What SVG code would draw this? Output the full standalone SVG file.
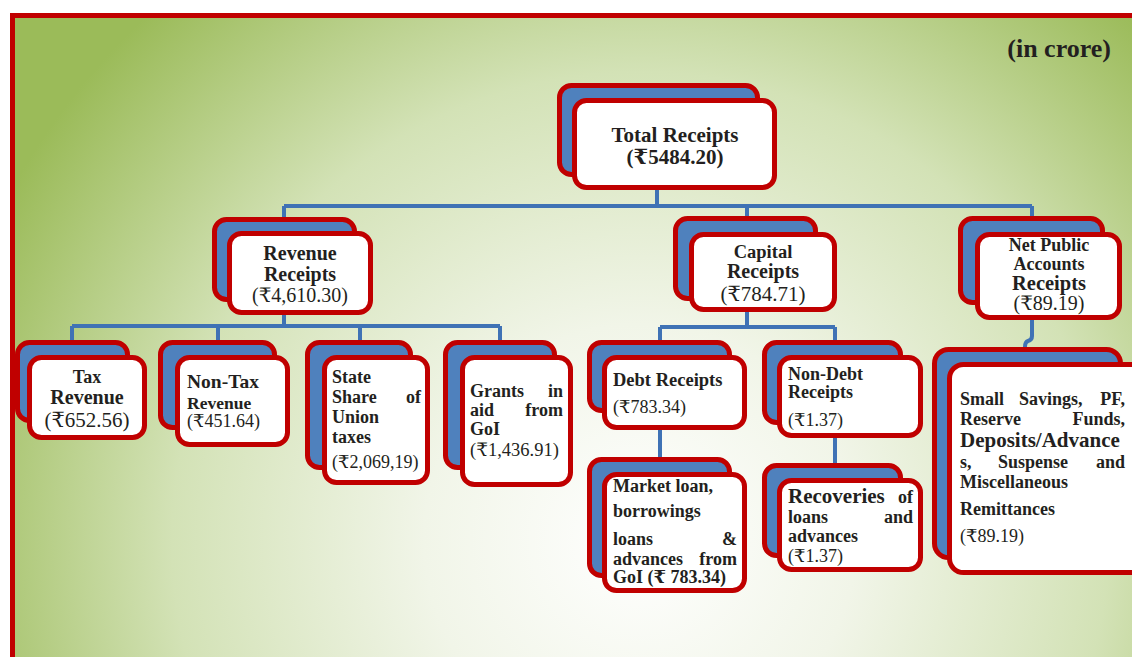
<svg xmlns="http://www.w3.org/2000/svg" width="1132" height="657" viewBox="0 0 1132 657">
<defs>
<radialGradient id="bg" gradientUnits="userSpaceOnUse" cx="640" cy="540" r="720">
<stop offset="0" stop-color="#ffffff"/>
<stop offset="0.3" stop-color="#f1f5e8"/>
<stop offset="0.65" stop-color="#d3e2b6"/>
<stop offset="1" stop-color="#9bbb59"/>
</radialGradient>
<style>
.back{fill:#4f81bd;stroke:#c00000;stroke-width:5}
.front{fill:#ffffff;stroke:#c00000;stroke-width:5}
.con{fill:none;stroke:#3f72b5;stroke-width:4}
text{font-family:"Liberation Serif","DejaVu Serif","Noto Sans",serif;fill:#231f20}
.b{font-weight:bold}
.c{text-anchor:middle}
.e{text-anchor:end}
</style>
</defs>
<rect x="0" y="0" width="1132" height="657" fill="#ffffff"/>
<rect x="12.5" y="15.5" width="1130" height="700" fill="url(#bg)" stroke="#c00000" stroke-width="5"/>
<text x="1111" y="57" class="b e" font-size="26">(in crore)</text>

<g id="connectors">
<path class="con" d="M657,190 V206 M284,206 H1032 M284,206 V232 M747,206 V232 M1032,206 V232"/>
<path class="con" d="M284,315 V326 M72,326 H500 M72,326 V355 M218,326 V355 M360,326 V355 M500,326 V355"/>
<path class="con" d="M747,312 V327 M660,327 H835 M660,327 V355 M835,327 V355 M660,430 V472 M835,438 V478"/>
<path class="con" d="M1032,320 V336 Q1032,340 1028,341 Q1025,342 1025,347 V350"/>
</g>

<g id="total">
<rect class="back" x="559.5" y="85.5" width="198" height="89" rx="12"/>
<rect class="front" x="574.5" y="100.5" width="200" height="87" rx="12"/>
<text x="675" y="142" class="b c" font-size="21">Total Receipts</text>
<text x="675" y="164" class="b c" font-size="21">(₹5484.20)</text>
</g>

<g id="revenue">
<rect class="back" x="214.5" y="219.5" width="140" height="80" rx="12"/>
<rect class="front" x="229.5" y="233.5" width="141" height="79" rx="12"/>
<text x="300" y="260" class="b c" font-size="20">Revenue</text>
<text x="300" y="281" class="b c" font-size="20">Receipts</text>
<text x="300" y="302" class="c" font-size="20">(₹4,610.30)</text>
</g>

<g id="capital">
<rect class="back" x="675.5" y="218.5" width="140" height="80" rx="12"/>
<rect class="front" x="691.5" y="234.5" width="143" height="75" rx="12"/>
<text x="763" y="258" class="b c" font-size="18.5">Capital</text>
<text x="763" y="278" class="b c" font-size="20">Receipts</text>
<text x="763" y="301" class="c" font-size="21">(₹784.71)</text>
</g>

<g id="netpublic">
<rect class="back" x="960.5" y="218.5" width="142" height="84" rx="12"/>
<rect class="front" x="977.5" y="234.5" width="142" height="83" rx="12"/>
<text x="1049" y="251" class="b c" font-size="18">Net Public</text>
<text x="1049" y="270" class="b c" font-size="18">Accounts</text>
<text x="1049" y="290" class="b c" font-size="20.5">Receipts</text>
<text x="1049" y="310" class="c" font-size="20">(₹89.19)</text>
</g>

<g id="tax">
<rect class="back" x="17.5" y="342.5" width="110" height="78" rx="12"/>
<rect class="front" x="29.5" y="357.5" width="115" height="80" rx="12"/>
<text x="87" y="383" class="b c" font-size="18">Tax</text>
<text x="87" y="404" class="b c" font-size="20">Revenue</text>
<text x="87" y="427" class="c" font-size="21">(₹652.56)</text>
</g>

<g id="nontax">
<rect class="back" x="160.5" y="342.5" width="114" height="85" rx="12"/>
<rect class="front" x="177.5" y="357.5" width="110" height="87" rx="12"/>
<text x="187" y="388" class="b" font-size="19.5">Non-Tax</text>
<text x="187" y="409" class="b" font-size="17.5">Revenue</text>
<text x="187" y="427" font-size="18">(₹451.64)</text>
</g>

<g id="stateshare">
<rect class="back" x="307.5" y="342.5" width="103" height="125" rx="12"/>
<rect class="front" x="324.5" y="357.5" width="103" height="125" rx="12"/>
<text x="332" y="383" class="b" font-size="18">State</text>
<text x="332" y="403" class="b" font-size="18">Share</text>
<text x="421" y="403" class="b e" font-size="18">of</text>
<text x="332" y="423" class="b" font-size="18">Union</text>
<text x="332" y="443" class="b" font-size="18">taxes</text>
<text x="332" y="468" font-size="18">(₹2,069,19)</text>
</g>

<g id="grants">
<rect class="back" x="445.5" y="342.5" width="109" height="125" rx="12"/>
<rect class="front" x="462.5" y="357.5" width="108" height="127" rx="12"/>
<text x="470" y="397" class="b" font-size="18">Grants</text>
<text x="563" y="397" class="b e" font-size="18">in</text>
<text x="470" y="416" class="b" font-size="18">aid</text>
<text x="563" y="416" class="b e" font-size="18">from</text>
<text x="470" y="435" class="b" font-size="18">GoI</text>
<text x="470" y="456" font-size="18.5">(₹1,436.91)</text>
</g>

<g id="debt">
<rect class="back" x="589.5" y="342.5" width="140" height="68" rx="12"/>
<rect class="front" x="604.5" y="357.5" width="140" height="70" rx="12"/>
<text x="613" y="386" class="b" font-size="18.5">Debt Receipts</text>
<text x="613" y="413" font-size="18">(₹783.34)</text>
</g>

<g id="marketloan">
<rect class="back" x="589.5" y="459.5" width="140" height="116" rx="12"/>
<rect class="front" x="604.5" y="474.5" width="140" height="116" rx="12"/>
<text x="613" y="492" class="b" font-size="18">Market loan,</text>
<text x="613" y="517" class="b" font-size="18">borrowings</text>
<text x="613" y="545" class="b" font-size="18">loans</text>
<text x="737" y="545" class="b e" font-size="18">&amp;</text>
<text x="613" y="565" class="b" font-size="18">advances</text>
<text x="737" y="565" class="b e" font-size="18">from</text>
<text x="613" y="583" class="b" font-size="18">GoI (₹ 783.34)</text>
</g>

<g id="nondebt">
<rect class="back" x="764.5" y="342.5" width="136" height="80" rx="12"/>
<rect class="front" x="779.5" y="357.5" width="141" height="78" rx="12"/>
<text x="788" y="380" class="b" font-size="18">Non-Debt</text>
<text x="788" y="398" class="b" font-size="18">Receipts</text>
<text x="788" y="426" font-size="18">(₹1.37)</text>
</g>

<g id="recoveries">
<rect class="back" x="764.5" y="465.5" width="136" height="90" rx="12"/>
<rect class="front" x="779.5" y="480.5" width="141" height="89" rx="12"/>
<text x="788" y="503" class="b" font-size="21">Recoveries</text>
<text x="913" y="503" class="b e" font-size="18">of</text>
<text x="788" y="523" class="b" font-size="18">loans</text>
<text x="913" y="523" class="b e" font-size="18">and</text>
<text x="788" y="542" class="b" font-size="18">advances</text>
<text x="788" y="562" font-size="18">(₹1.37)</text>
</g>

<g id="smallsavings">
<rect class="back" x="934.5" y="349.5" width="186" height="208" rx="14"/>
<rect class="front" x="949.5" y="364.5" width="195" height="208" rx="14"/>
<text x="960" y="405" class="b" font-size="18">Small</text>
<text x="1019" y="405" class="b" font-size="18">Savings,</text>
<text x="1125" y="405" class="b e" font-size="18">PF,</text>
<text x="960" y="425" class="b" font-size="18">Reserve</text>
<text x="1125" y="425" class="b e" font-size="18">Funds,</text>
<text x="960" y="447" class="b" font-size="21">Deposits/Advance</text>
<text x="960" y="468" class="b" font-size="18">s,</text>
<text x="998" y="468" class="b" font-size="18">Suspense</text>
<text x="1125" y="468" class="b e" font-size="18">and</text>
<text x="960" y="488" class="b" font-size="18">Miscellaneous</text>
<text x="960" y="515" class="b" font-size="18">Remittances</text>
<text x="960" y="542" font-size="18">(₹89.19)</text>
</g>
</svg>
